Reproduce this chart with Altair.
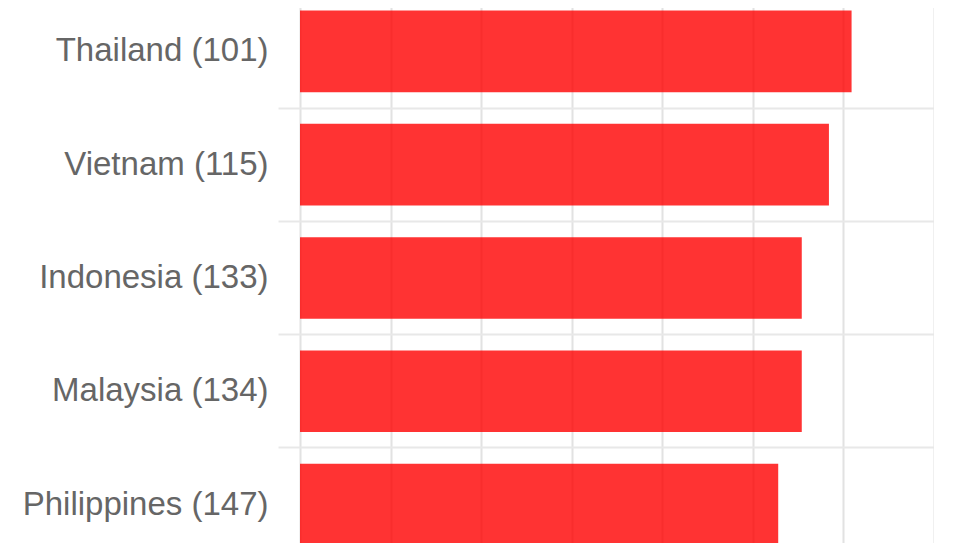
import altair as alt
import pandas as pd

countries = ["Thailand (101)", "Vietnam (115)", "Indonesia (133)", "Malaysia (134)", "Philippines (147)"]
values = [60.9, 58.4, 55.4, 55.4, 52.8]
x_ticks = [0, 10, 20, 30, 40, 50, 60, 70]

df = pd.DataFrame({"country": countries, "value": values})

chart = alt.Chart(df).mark_bar(color="#ff0000", opacity=0.8).encode(
    x=alt.X(
        "value:Q",
        scale=alt.Scale(domain=[0, 70], nice=False),
        axis=alt.Axis(values=x_ticks, labels=False, ticks=False, domain=False, title=None,
                      grid=True, gridColor="#e2e2e2", gridWidth=2),
    ),
    y=alt.Y(
        "country:N",
        sort=countries,
        scale=alt.Scale(range=[-13.3, 553.2], paddingInner=0.28, paddingOuter=0.14),
        axis=alt.Axis(title=None, domain=False, ticks=True, tickSize=22, tickColor="#e8e8e8",
                      tickWidth=2, grid=True, gridColor="#e8e8e8", gridWidth=2,
                      bandPosition=1.195,
                      labelFontSize=33, labelColor="#666666", labelFont="Liberation Sans",
                      labelPadding=10, labelLimit=400),
    ),
).properties(
    width=634,
    height=535,
    autosize=alt.AutoSizeParams(type="none"),
    padding={"left": 292, "top": 0, "right": 0, "bottom": 0},
).configure_view(stroke=None)

chart.save("out.html", embed_options={"renderer": "svg", "actions": False})
